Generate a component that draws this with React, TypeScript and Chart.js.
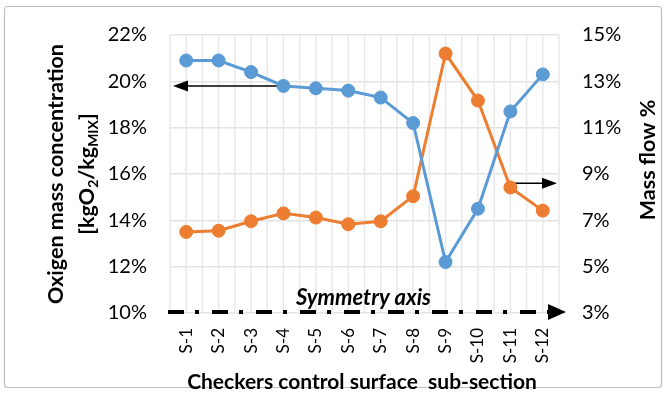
import React, { useEffect, useRef } from "react";
import { Chart, registerables } from "chart.js";

Chart.register(...registerables);

const categories = ["S-1", "S-2", "S-3", "S-4", "S-5", "S-6", "S-7", "S-8", "S-9", "S-10", "S-11", "S-12"];
const oxygenConcentration = [20.9, 20.9, 20.4, 19.8, 19.7, 19.6, 19.3, 18.2, 12.2, 14.5, 18.7, 20.3];
const massFlow = [6.5, 6.55, 6.96, 7.3, 7.12, 6.83, 6.96, 8.04, 14.2, 12.17, 8.42, 7.42];
const leftAxisRange = [10, 22];
const rightAxisRange = [3, 15];
const axisStep = 2;
const leftArrow = { index: 3, value: 19.8 };
const rightArrow = { index: 10, value: 8.6 };

const FONT = "Lato, 'Liberation Sans', sans-serif";
const BLUE = "#5B9BD5";
const ORANGE = "#ED7D31";

function drawRotatedRuns(ctx: CanvasRenderingContext2D, runs: { t: string; sub?: boolean }[], cx: number, cy: number, size: number) {
  ctx.save();
  ctx.translate(cx, cy);
  ctx.rotate(-Math.PI / 2);
  const main = `bold ${size}px ${FONT}`;
  const subF = `bold ${Math.round(size * 0.65)}px ${FONT}`;
  let total = 0;
  for (const r of runs) {
    ctx.font = r.sub ? subF : main;
    total += ctx.measureText(r.t).width;
  }
  let x = -total / 2;
  ctx.textBaseline = "middle";
  ctx.textAlign = "left";
  ctx.fillStyle = "#000";
  for (const r of runs) {
    ctx.font = r.sub ? subF : main;
    ctx.fillText(r.t, x, r.sub ? size * 0.3 : 0);
    x += ctx.measureText(r.t).width;
  }
  ctx.restore();
}

const customPlugin = {
  id: "customDecor",
  beforeDraw(chart: any) {
    const ctx = chart.ctx as CanvasRenderingContext2D;
    ctx.save();
    ctx.fillStyle = "#fff";
    ctx.fillRect(0, 0, chart.width, chart.height);
    ctx.strokeStyle = "#bfbfbf";
    ctx.lineWidth = 1.2;
    ctx.beginPath();
    (ctx as any).roundRect(4.5, 6.5, 657, 381, 3);
    ctx.stroke();
    ctx.restore();
  },
  beforeDatasetsDraw(chart: any) {
    const ctx = chart.ctx as CanvasRenderingContext2D;
    const { left, right, top, bottom } = chart.chartArea;
    const xs = chart.scales.x;
    const ys = chart.scales.y;
    const y2 = chart.scales.y2;
    ctx.save();
    const n = categories.length * 2;
    ctx.strokeStyle = "#e8e8e8";
    ctx.lineWidth = 1.5;
    for (let i = 0; i <= n; i++) {
      const x = left + ((right - left) * i) / n;
      ctx.beginPath();
      ctx.moveTo(x, top);
      ctx.lineTo(x, bottom);
      ctx.stroke();
    }
    ctx.strokeStyle = "#000";
    ctx.fillStyle = "#000";
    ctx.lineWidth = 1.5;
    const ly = ys.getPixelForValue(leftArrow.value);
    const lx = xs.getPixelForValue(leftArrow.index);
    const tipL = left + 3;
    ctx.beginPath();
    ctx.moveTo(lx, ly);
    ctx.lineTo(tipL + 12, ly);
    ctx.stroke();
    ctx.beginPath();
    ctx.moveTo(tipL, ly);
    ctx.lineTo(tipL + 15, ly - 5.5);
    ctx.lineTo(tipL + 15, ly + 5.5);
    ctx.closePath();
    ctx.fill();
    const ry = y2.getPixelForValue(rightArrow.value);
    const rx = xs.getPixelForValue(rightArrow.index);
    const tipR = right - 2;
    ctx.beginPath();
    ctx.moveTo(rx, ry);
    ctx.lineTo(tipR - 12, ry);
    ctx.stroke();
    ctx.beginPath();
    ctx.moveTo(tipR, ry);
    ctx.lineTo(tipR - 15, ry - 5.5);
    ctx.lineTo(tipR - 15, ry + 5.5);
    ctx.closePath();
    ctx.fill();
    const sy = bottom - 1;
    ctx.lineWidth = 4;
    ctx.setLineDash([16, 11, 4, 13]);
    ctx.beginPath();
    ctx.moveTo(left - 2, sy);
    ctx.lineTo(right - 10, sy);
    ctx.stroke();
    ctx.setLineDash([]);
    ctx.beginPath();
    ctx.moveTo(right + 7, sy);
    ctx.lineTo(right - 11, sy - 8);
    ctx.lineTo(right - 11, sy + 8);
    ctx.closePath();
    ctx.fill();
    ctx.font = `italic bold 22px ${FONT}`;
    ctx.textAlign = "center";
    ctx.textBaseline = "alphabetic";
    ctx.fillText("Symmetry axis", (left + right) / 2 - 1, sy - 7);
    ctx.restore();
  },
  afterDraw(chart: any) {
    const ctx = chart.ctx as CanvasRenderingContext2D;
    const { top, bottom, left, right } = chart.chartArea;
    const midY = (top + bottom) / 2;
    drawRotatedRuns(ctx, [{ t: "Oxigen mass concentration" }], 56, midY, 21.5);
    drawRotatedRuns(
      ctx,
      [{ t: "[kgO" }, { t: "2", sub: true }, { t: "/kg" }, { t: "MIX", sub: true }, { t: "]" }],
      87,
      midY,
      21.5
    );
    drawRotatedRuns(ctx, [{ t: "Mass flow %" }], 648, 160, 21.5);
    ctx.save();
    ctx.font = `bold 21px ${FONT}`;
    ctx.fillStyle = "#000";
    ctx.textAlign = "center";
    ctx.textBaseline = "middle";
    ctx.fillText("Checkers control surface  sub-section", 362, 382);
    ctx.restore();
  },
};

export default function App() {
  const ref = useRef<HTMLCanvasElement | null>(null);
  useEffect(() => {
    if (!ref.current) return;
    const chart = new Chart(ref.current, {
      type: "line",
      data: {
        labels: categories,
        datasets: [
          {
            label: "Oxygen",
            data: oxygenConcentration,
            yAxisID: "y",
            borderColor: BLUE,
            backgroundColor: BLUE,
            borderWidth: 3,
            pointRadius: 6.5,
            pointBorderWidth: 1,
            pointBorderColor: BLUE,
            pointBackgroundColor: BLUE,
          },
          {
            label: "Mass flow",
            data: massFlow,
            yAxisID: "y2",
            borderColor: ORANGE,
            backgroundColor: ORANGE,
            borderWidth: 3,
            pointRadius: 6.5,
            pointBorderWidth: 1,
            pointBorderColor: ORANGE,
            pointBackgroundColor: ORANGE,
          },
        ],
      },
      options: {
        animation: false,
        responsive: false,
        maintainAspectRatio: false,
        layout: { padding: { top: 25, left: 0, right: 0, bottom: 0 } },
        plugins: { legend: { display: false }, tooltip: { enabled: false } },
        scales: {
          x: {
            type: "category",
            offset: true,
            grid: { display: false, drawTicks: false },
            border: { display: false },
            ticks: {
              autoSkip: false,
              maxRotation: 90,
              minRotation: 90,
              padding: 15,
              color: "#000",
              font: { family: FONT, size: 17 },
            },
            afterFit(scale: any) {
              scale.height = 89;
            },
          },
          y: {
            position: "left",
            min: leftAxisRange[0],
            max: leftAxisRange[1],
            grid: { color: "#e3e3e3", lineWidth: 1.5, drawTicks: false },
            border: { display: false },
            ticks: {
              stepSize: axisStep,
              padding: 23,
              color: "#000",
              font: { family: FONT, size: 20 },
              callback: (v: any) => `${v}%`,
            },
            afterFit(scale: any) {
              scale.width = 170;
            },
          },
          y2: {
            position: "right",
            min: rightAxisRange[0],
            max: rightAxisRange[1],
            grid: { display: false, drawTicks: false },
            border: { display: false },
            ticks: {
              stepSize: axisStep,
              padding: 23,
              color: "#000",
              font: { family: FONT, size: 20 },
              callback: (v: any) => `${v}%`,
            },
            afterFit(scale: any) {
              scale.width = 107;
            },
          },
        },
      },
      plugins: [customPlugin],
    });
    return () => chart.destroy();
  }, []);
  return (
    <div style={{ position: "absolute", left: 0, top: 0, width: 666, height: 402 }}>
      <canvas ref={ref} width={666} height={402} style={{ width: 666, height: 402, display: "block" }} />
    </div>
  );
}
